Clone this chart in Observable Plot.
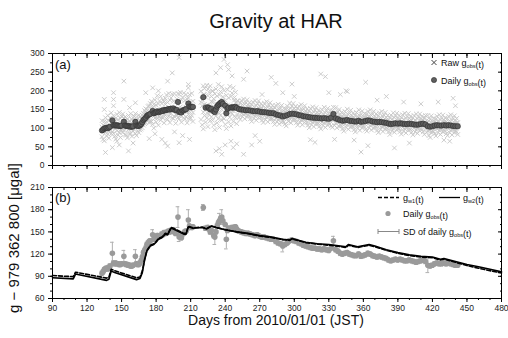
<!DOCTYPE html>
<html>
<head>
<meta charset="utf-8">
<script src="https://cdn.jsdelivr.net/npm/d3@7"></script>
<script src="https://cdn.jsdelivr.net/npm/@observablehq/plot@0.6"></script>
<style>
  html, body { margin: 0; padding: 0; background: #fff; }
  #wrap { position: relative; width: 508px; height: 338px; font-family: "Liberation Sans", Arial, Helvetica, sans-serif; }
  #wrap > svg { position: absolute; left: 0; }
</style>
</head>
<body>
<div id="wrap"></div>
<script>
// ---------------- data ----------------
const xTicks = [90, 120, 150, 180, 210, 240, 270, 300, 330, 360, 390, 420, 450, 480];
const yTicksA = [0, 50, 100, 150, 200, 250, 300];
const yTicksB = [60, 90, 120, 150, 180, 210];

// daily mean g_obs: [day, value, SD]
const daily = [
[133,94,3],[134,96,3],[135,99,3],[136,100,3],[137,101,3],[138,100,3],[139,102,3],[140,104,3],
[142,121,15],[143,108,3],[144,107,3],[145,108,3],[146,107,3],[147,107,3],[148,106,3],[149,106,3],[150,107,3],
[152,117,8],[153,107,3],[154,106,3],[155,106,3],[156,105,3],[157,105,3],[158,104,3],[159,104,3],[160,105,3],
[162,117,9],[163,107,3],[164,106,3],[165,106,3],[166,108,3],[167,111,3],[168,116,3],[169,122,3],[170,125,3],
[171,128,3],[172,133,3],[173,135,3],[174,137,3],[175,138,3],[177,146,7],[178,140,3],[179,141,3],[180,143,3],
[181,145,3],[182,143,3],[183,144,3],[184,145,3],[185,147,3],[186,146,3],[187,149,3],[188,148,3],[189,149,3],
[190,150,3],[191,151,3],[192,150,3],[193,152,3],[194,151,3],[195,153,3],[196,150,3],[197,148,3],[198,149,3],
[199,170,14],[200,143,6],[201,144,3],[202,142,3],[203,147,3],[204,148,3],[205,150,3],[206,151,3],
[208,166,14],[209,158,3],[210,157,3],[211,156,3],[212,157,3],
[221,183,4],[223,155,3],[225,156,3],[226,154,3],[227,150,3],[228,152,3],[230,145,3],[231,143,10],[232,150,3],
[233,158,3],[234,162,3],[235,165,10],[236,168,3],[237,170,10],[238,165,3],[240,160,3],[241,140,13],[242,152,3],
[243,155,3],[245,155,3],[246,156,3],[247,155,3],[248,156,3],[249,157,3],[250,154,3],
[252,151,3],[254,150,3],[256,149,3],[258,148,3],[260,148,3],[262,147,3],[264,146,3],[266,145,3],[268,146,3],
[270,144,3],[272,143,3],[274,143,3],[276,142,3],[278,141,3],[280,140,3],[282,140,3],[284,137,3],[286,135,3],
[288,134,3],[290,131,8],[292,133,3],[294,135,3],[296,138,3],[298,139,3],[300,138,3],[302,137,3],[304,135,3],
[306,134,3],[308,132,3],[310,131,3],[312,130,3],[314,129,3],[316,128,3],[318,128,3],[320,127,3],[322,127,3],
[324,126,3],[326,127,3],[328,126,3],[330,125,3],[332,128,3],[334,138,6],[336,126,3],[338,124,3],[340,121,3],
[342,120,3],[344,121,3],[346,122,3],[348,120,3],[350,119,3],[352,118,3],[354,118,3],[356,120,3],[358,117,3],
[360,118,3],[362,119,3],[364,121,3],[366,120,3],[368,118,3],[370,117,3],[372,116,3],[374,117,3],[376,116,3],
[378,115,3],[380,114,3],[382,112,3],[384,111,3],[386,112,3],[388,113,3],[390,112,3],[392,113,3],[394,112,3],
[396,111,3],[398,111,3],[400,112,3],[402,111,3],[404,110,3],[406,109,3],[408,110,3],[410,111,3],[412,112,3],
[414,110,3],[416,105,10],[418,104,3],[420,105,3],[422,107,3],[424,108,3],[426,107,3],[428,107,3],[430,108,3],
[432,107,3],[434,108,3],[436,107,3],[438,106,3],[440,105,3],[442,105,3]
];

// raw g_obs readings per day: [day, v1, v2, v3]
const rawRows = [
[133,77,103,120],[134,108,70,99],[135,92,118,66],[136,128,88,105],[137,79,117,98],[138,104,84,134],[139,120,73,93],[140,94,127,104],
[141,141,102,85],[142,91,116,124],[143,86,114,133],[144,119,78,109],[145,99,127,71],[146,137,93,112],[147,82,123,103],[148,110,89,142],
[149,126,75,96],[150,95,131,106],[151,138,99,88],[152,94,112,127],[153,83,117,130],[154,122,81,106],[155,101,124,74],[156,134,96,115],
[157,85,120,100],[158,113,86,139],[159,123,78,99],[160,92,128,109],[161,118,96,132],[162,85,110,139],[163,104,80,121],[164,127,93,112],
[165,88,116,135],[166,120,95,130],[167,98,126,114],[168,135,101,122],[169,108,140,125],[170,147,112,130],[171,115,143,152],[172,120,150,136],
[173,158,122,141],[174,128,160,115],[175,145,119,166],[176,118,151,172],[177,156,110,147],[178,132,164,100],[179,176,127,147],[180,116,162,140],
[181,150,126,187],[182,165,108,132],[183,131,173,144],[184,185,140,121],[185,129,166,144],[186,151,128,175],[187,172,114,138],[188,135,164,180],
[189,189,144,125],[190,123,169,147],[191,156,132,193],[192,175,115,139],[193,139,181,152],[194,191,146,127],[195,126,172,150],[196,155,131,192],
[197,170,113,137],[198,135,178,149],[199,193,147,128],[200,125,171,149],[201,157,133,196],[202,176,116,141],[203,139,183,152],[204,194,147,128],
[205,124,174,151],[206,156,130,190],[207,178,114,143],[208,137,181,155],[209,190,145,129],[210,127,170,150],[211,158,134,193],[212,172,118,142],
[219,123,169,199],[220,176,109,160],[221,143,190,98],[222,206,134,164],[223,116,183,150],[224,162,127,215],[225,187,104,139],[226,137,196,155],
[227,213,148,120],[228,130,171,185],[229,121,170,199],[230,179,108,158],[231,140,192,96],[232,205,133,166],[233,114,186,151],[234,163,125,217],
[235,189,102,140],[236,135,198,153],[237,211,150,121],[238,128,173,184],[239,125,166,201],[240,174,110,161],[241,146,188,99],[242,203,136,162],
[243,117,181,148],[244,160,129,212],[245,185,106,142],[246,139,194,156],[247,208,146,118],[248,132,175,182],[249,128,168,196],[250,172,112,157],
[251,137,159,173],[252,161,129,153],[253,145,168,123],[254,174,140,154],[255,131,163,148],[256,152,136,178],[257,164,125,141],[258,139,168,148],
[259,176,145,131],[260,136,156,162],[261,132,154,168],[262,157,125,149],[263,140,163,118],[264,170,136,150],[265,126,158,143],[266,148,132,174],
[267,160,121,137],[268,137,166,146],[269,173,142,128],[270,132,152,158],[271,129,151,165],[272,153,121,145],[273,137,160,115],[274,167,133,147],
[275,123,155,140],[276,145,129,171],[277,156,117,133],[278,132,161,141],[279,168,137,123],[280,128,148,154],[281,125,147,161],[282,150,118,142],
[283,132,155,110],[284,161,127,141],[285,117,149,134],[286,138,122,164],[287,150,111,127],[288,125,154,134],[289,161,130,116],[290,119,139,145],
[291,117,139,153],[292,143,111,135],[293,128,151,106],[294,159,125,139],[295,118,150,135],[296,141,125,167],[297,153,114,130],[298,130,159,139],
[299,166,135,121],[300,126,146,152],[301,122,144,158],[302,147,115,139],[303,130,153,108],[304,159,125,139],[305,116,148,133],[306,137,121,163],
[307,148,109,125],[308,123,152,132],[309,160,129,115],[310,119,139,145],[311,115,137,151],[312,140,108,132],[313,123,146,101],[314,153,119,133],
[315,109,141,126],[316,131,115,157],[317,143,104,120],[318,119,148,128],[319,155,124,110],[320,115,135,141],[321,112,134,148],[322,137,105,129],
[323,120,143,98],[324,150,116,130],[325,107,139,124],[326,130,114,156],[327,141,102,118],[328,117,146,126],[329,153,122,108],[330,113,133,139],
[331,111,133,147],[332,138,106,130],[333,124,147,102],[334,156,122,136],[335,107,139,124],[336,129,113,155],[337,140,101,117],[338,115,144,124],
[339,150,119,105],[340,109,129,135],[341,106,128,142],[342,130,98,122],[343,114,137,92],[344,145,111,125],[345,102,134,119],[346,125,109,151],
[347,136,97,113],[348,111,140,120],[349,148,117,103],[350,107,127,133],[351,104,126,140],[352,128,96,120],[353,112,135,90],[354,142,108,122],
[355,100,132,117],[356,123,107,149],[357,133,94,110],[358,108,137,117],[359,146,115,101],[360,106,126,132],[361,103,125,139],[362,129,97,121],
[363,114,137,92],[364,145,111,125],[365,101,133,118],[366,123,107,149],[367,134,95,111],[368,109,138,118],[369,145,114,100],[370,105,125,131],
[371,102,124,138],[372,126,94,118],[373,110,133,88],[374,141,107,121],[375,97,129,114],[376,119,103,145],[377,130,91,107],[378,106,135,115],
[379,142,111,97],[380,102,122,128],[381,98,120,134],[382,122,90,114],[383,105,128,83],[384,135,101,115],[385,93,125,110],[386,115,99,141],
[387,128,89,105],[388,104,133,113],[389,140,109,95],[390,100,120,126],[391,98,120,134],[392,123,91,115],[393,106,129,84],[394,136,102,116],
[395,92,124,109],[396,114,98,140],[397,126,87,103],[398,102,131,111],[399,139,108,94],[400,100,120,126],[401,96,118,132],[402,121,89,113],
[403,104,127,82],[404,134,100,114],[405,90,122,107],[406,112,96,138],[407,125,86,102],[408,101,130,110],[409,138,107,93],[410,99,119,125],
[411,96,118,132],[412,122,90,114],[413,105,128,83],[414,134,100,114],[415,89,121,106],[416,108,92,134],[417,119,80,96],[418,95,124,104],
[419,133,102,88],[420,93,113,119],[421,91,113,127],[422,117,85,109],[423,101,124,79],[424,132,98,112],[425,88,120,105],[426,110,94,136],
[427,122,83,99],[428,98,127,107],[429,135,104,90],[430,96,116,122],[431,92,114,128],[432,117,85,109],[433,102,125,80],[434,132,98,112],
[435,88,120,105],[436,110,94,136],[437,121,82,98],[438,97,126,106],[439,133,102,88],[440,93,113,119],[441,90,112,126],[442,115,83,107]
];
// isolated raw readings far from the daily mean: [day, value]
const rawOutliers = [
[135,177],[135,150],[136,35],[142,48],[143,195],[143,177],[143,160],[146,65],[152,226],[152,177],[156,39],[157,155],
[162,168],[160,60],[148,55],
[171,195],[177,208],[182,200],[190,226],[190,52],[194,248],[200,289],[200,61],[200,190],[179,85],[185,70],[196,90],
[203,80],[208,217],[208,208],[209,124],[209,70],[174,72],[188,60],
[221,213],[222,190],[225,205],[229,200],[232,248],[239,284],[242,270],[243,257],[232,39],[237,30],[247,48],[256,30],
[256,231],[259,253],[235,45],[240,55],[245,65],[250,58],[236,262],[246,240],
[263,55],[266,80],[270,65],[280,236],[284,220],[272,190],[290,195],[298,218],[300,185],[314,69],[318,62],[323,245],
[327,238],[330,195],[335,70],[340,190],[345,200],[346,198],[352,68],[358,36],[362,223],[364,53],[372,175],[380,185],
[387,47],[395,170],[400,60],[410,165],[418,75],[425,170],[430,68],[438,180],[440,160],[435,65]
];

// modelled gravity g_w1(t) (dashed) and g_w2(t) (solid): [day, value]
const gw1 = [
[90,91],[108,89.5],[110,95.5],[112,95],[137,87.5],[139,89],[141,99.5],[144,97.5],[163,88],[166,89],[168,97],[170,113],
[172,125],[175,132],[178,134],[180,137],[182,141],[185,143],[188,148],[190,147],[193,156],[195,155],[204,148],[206,148],
[208,157.5],[212,155.5],[220,156.5],[224,154.5],[228,158],[232,156],[240,153],[250,150],[260,147.5],[270,144.5],
[280,142.5],[290,139.5],[296,138.5],[298,140.5],[310,135.5],[320,133.5],[330,132],[340,130],[345,129],[347,132],
[355,129],[365,132],[370,130],[380,125],[390,121],[400,118],[410,116],[420,115],[427,112],[430,113],[440,109],
[450,104.5],[460,101],[470,97.5],[480,94.5]
];
const gw2 = [
[90,88],[108,86.5],[110,93],[112,92.5],[137,84.5],[139,86],[141,97],[144,95],[163,85.5],[166,87],[168,95],[170,112],
[172,124],[175,131],[178,133],[180,136],[182,140],[185,142],[188,147],[190,146],[193,155],[195,154],[204,147],[206,147],
[208,157],[212,155],[220,156],[224,154],[228,158],[232,156],[240,153],[250,150],[260,148],[270,145],[280,143],
[290,140],[296,139],[298,141],[310,136],[320,134],[330,133],[340,131],[345,130],[347,133],[355,130],[365,133],
[370,131],[380,126],[390,122],[400,119],[410,117],[420,116],[427,113],[430,114],[440,110],[450,106],[460,103],
[470,99.5],[480,96]
];

// table of individual raw readings built from the rows above
const raw = rawRows.flatMap(r => r.slice(1).map(v => [r[0], v])).concat(rawOutliers);

// ---------------- drawing ----------------
const FONT = '"Liberation Sans", Arial, Helvetica, sans-serif';
const W = 508, ML = 52, MR = 7;
const xMinor = d3.range(90, 481, 10);
const wrap = document.getElementById("wrap");

function frameAxes(yTicks, yMinor, showXLabels) {
  return [
    Plot.axisX({anchor: "bottom", ticks: xMinor, tickSize: 2, tickFormat: () => ""}),
    Plot.axisX({anchor: "bottom", ticks: xTicks, tickSize: 4, tickPadding: 2,
      tickFormat: showXLabels ? (d => d) : () => "", fontSize: 8.5, fill: "#222"}),
    Plot.axisX({anchor: "top", ticks: xMinor, tickSize: 2, dy: 2, tickFormat: () => ""}),
    Plot.axisX({anchor: "top", ticks: xTicks, tickSize: 4, dy: 4, tickFormat: () => ""}),
    Plot.axisY({anchor: "left", ticks: yMinor, tickSize: 2, tickFormat: () => ""}),
    Plot.axisY({anchor: "left", ticks: yTicks, tickSize: 4, tickPadding: 4, fontSize: 8.5, fill: "#222"}),
    Plot.axisY({anchor: "right", ticks: yMinor, tickSize: 2, dx: -2, tickFormat: () => ""}),
    Plot.axisY({anchor: "right", ticks: yTicks, tickSize: 4, dx: -4, tickFormat: () => ""}),
    Plot.frame({stroke: "#000", strokeWidth: 1})
  ];
}

// Panel (a)
const pa = Plot.plot({
  width: W, height: 130,
  marginLeft: ML, marginRight: MR, marginTop: 13, marginBottom: 5,
  style: {fontFamily: FONT, background: "transparent", overflow: "visible"},
  x: {domain: [90, 480]},
  y: {domain: [0, 300]},
  marks: [
    Plot.dot(raw, {x: d => d[0], y: d => d[1], symbol: "times", r: 2.2, stroke: "#c6c6c6", strokeWidth: 0.9}),
    Plot.dot(daily, {x: d => d[0], y: d => d[1], r: 2.7, fill: "#5e5e5e", stroke: "#2e2e2e", strokeWidth: 0.6}),
    ...frameAxes(yTicksA, d3.range(0, 301, 25), false)
  ]
});
pa.style.top = "40px";
wrap.appendChild(pa);

// Panel (b)
const pb = Plot.plot({
  width: W, height: 163,
  marginLeft: ML, marginRight: MR, marginTop: 12, marginBottom: 40,
  style: {fontFamily: FONT, background: "transparent", overflow: "visible"},
  x: {domain: [90, 480]},
  y: {domain: [60, 210]},
  marks: [
    Plot.ruleX(daily, {x: d => d[0], y1: d => d[1] - d[2], y2: d => d[1] + d[2], stroke: "#b0b0b0", strokeWidth: 1}),
    Plot.ruleY(daily, {y: d => d[1] + d[2], x1: d => d[0] - 1.6, x2: d => d[0] + 1.6, stroke: "#b0b0b0", strokeWidth: 1}),
    Plot.ruleY(daily, {y: d => d[1] - d[2], x1: d => d[0] - 1.6, x2: d => d[0] + 1.6, stroke: "#b0b0b0", strokeWidth: 1}),
    Plot.dot(daily, {x: d => d[0], y: d => d[1], r: 2.8, fill: "#9a9a9a"}),
    Plot.line(gw1, {x: d => d[0], y: d => d[1], stroke: "#000", strokeWidth: 1.6, strokeDasharray: "4,2"}),
    Plot.line(gw2, {x: d => d[0], y: d => d[1], stroke: "#000", strokeWidth: 1.6}),
    ...frameAxes(yTicksB, d3.range(60, 211, 10), true)
  ]
});
pb.style.top = "175px";
wrap.appendChild(pb);

// Overlay: title, axis titles, panel labels, legends
const NS = "http://www.w3.org/2000/svg";
const ov = document.createElementNS(NS, "svg");
ov.setAttribute("width", W); ov.setAttribute("height", 338);
ov.style.top = "0px"; ov.style.fontFamily = FONT;
wrap.appendChild(ov);

function txt(x, y, parts, opts = {}) {
  const t = document.createElementNS(NS, "text");
  t.setAttribute("x", x); t.setAttribute("y", y);
  t.setAttribute("font-size", opts.size || 9);
  t.setAttribute("fill", opts.fill || "#111");
  if (opts.anchor) t.setAttribute("text-anchor", opts.anchor);
  if (opts.transform) t.setAttribute("transform", opts.transform);
  for (const p of (Array.isArray(parts) ? parts : [parts])) {
    const s = document.createElementNS(NS, "tspan");
    if (typeof p === "string") { s.textContent = p; }
    else { s.textContent = p.sub; s.setAttribute("font-size", (opts.size || 9) * 0.62); s.setAttribute("dy", 2); }
    t.appendChild(s);
    if (typeof p !== "string") { const r = document.createElementNS(NS, "tspan"); r.setAttribute("dy", -2); r.textContent = ""; t.appendChild(r); }
  }
  ov.appendChild(t);
  return t;
}
function el(name, attrs) {
  const e = document.createElementNS(NS, name);
  for (const k in attrs) e.setAttribute(k, attrs[k]);
  ov.appendChild(e);
  return e;
}
function gsub(label) { return ["g", {sub: label}, "(t)"]; }

txt(276, 28, "Gravity at HAR", {size: 20, anchor: "middle", fill: "#111"});
txt(276, 325, "Days from 2010/01/01 (JST)", {size: 14, anchor: "middle", fill: "#111"});
txt(0, 0, "g \u2212 979 362 800 [\u03bcgal]", {size: 15, anchor: "middle", fill: "#111", transform: "translate(19,238) rotate(-90)"});
txt(55, 69, "(a)", {size: 13});
txt(55, 202, "(b)", {size: 13});

// legend (a)
el("path", {d: "M431.5,60 l5,5 M436.5,60 l-5,5", stroke: "#444", "stroke-width": 1});
txt(441, 65.5, ["Raw ", ...gsub("obs")]);
el("circle", {cx: 434, cy: 80, r: 2.6, fill: "#5e5e5e", stroke: "#2e2e2e", "stroke-width": 0.6});
txt(441, 83.5, ["Daily ", ...gsub("obs")]);

// legend (b)
el("line", {x1: 378, x2: 399, y1: 197.5, y2: 197.5, stroke: "#000", "stroke-width": 1.3, "stroke-dasharray": "4,2"});
txt(403, 200.5, gsub("w1"));
el("line", {x1: 439, x2: 460, y1: 197.5, y2: 197.5, stroke: "#000", "stroke-width": 1.3});
txt(463, 200.5, gsub("w2"));
el("circle", {cx: 388, cy: 213.5, r: 2.6, fill: "#9a9a9a"});
txt(403, 216.5, ["Daily ", ...gsub("obs")]);
el("path", {d: "M378,231.5 H399 M378,229 V234 M399,229 V234", stroke: "#888", "stroke-width": 1, fill: "none"});
txt(403, 234.5, ["SD of daily ", ...gsub("obs")]);
</script>
</body>
</html>
